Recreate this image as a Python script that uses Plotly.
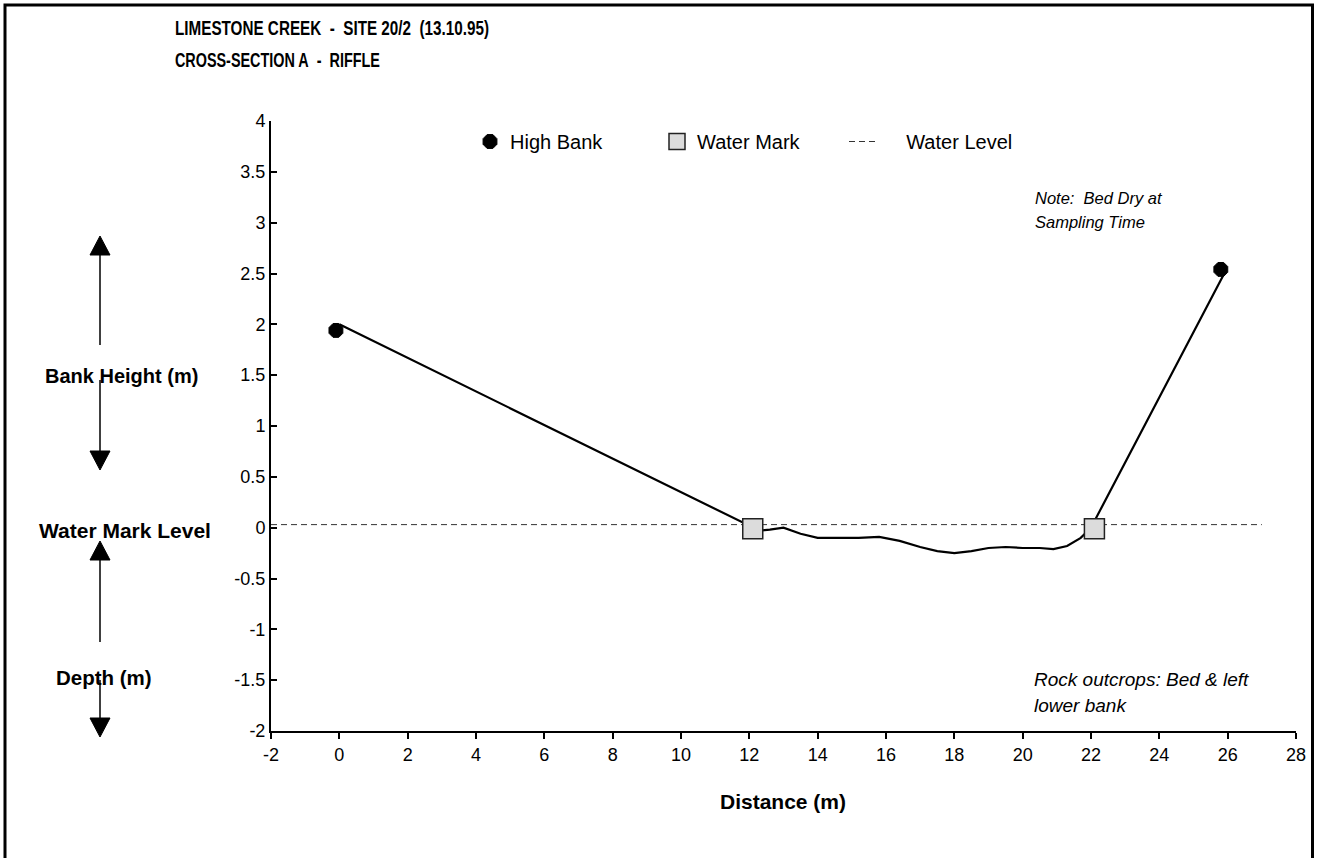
import plotly.graph_objects as go

# ---- data ----
profile_x = [0.0, 12.0, 12.3, 12.6, 13.0, 13.5, 14.0, 14.6, 15.2, 15.8, 16.4, 17.0, 17.5, 18.0, 18.5, 19.0, 19.5, 20.0, 20.5, 20.9, 21.3, 21.7, 22.0, 25.9]
profile_y = [2.0, 0.02, -0.03, -0.02, 0.0, -0.06, -0.10, -0.10, -0.10, -0.09, -0.13, -0.19, -0.23, -0.25, -0.23, -0.20, -0.19, -0.20, -0.20, -0.21, -0.18, -0.10, 0.0, 2.5]
high_bank_x = [-0.1, 25.8]
high_bank_y = [1.94, 2.54]
water_mark_x = [12.1, 22.1]
water_mark_y = [-0.01, -0.01]
water_level_x = [-2, 27]
water_level_y = [0.03, 0.03]

x_ticks = list(range(-2, 29, 2))
y_ticks = [-2, -1.5, -1, -0.5, 0, 0.5, 1, 1.5, 2, 2.5, 3, 3.5, 4]
y_tick_text = ["-2", "-1.5", "-1", "-0.5", "0", "0.5", "1", "1.5", "2", "2.5", "3", "3.5", "4"]
x_tick_text = [str(v) for v in x_ticks]

FONT = "Liberation Sans, Arial, sans-serif"

WIDTH, HEIGHT = 1318, 858
# plot area in screen pixels
L, R, T, B = 271, 1296, 121, 731
PW, PH = R - L, B - T


def px(x):
    return (x - L) / PW


def py(y):
    return (B - y) / PH


NB = "\u00a0"

fig = go.Figure()

fig.add_trace(go.Scatter(
    x=water_level_x, y=water_level_y, mode="lines", name=NB * 4 + "Water Level",
    line=dict(color="#333333", width=1, dash="6px,4px"),
))
fig.add_trace(go.Scatter(
    x=profile_x, y=profile_y, mode="lines", showlegend=False,
    line=dict(color="black", width=2.2),
))
fig.add_trace(go.Scatter(
    x=high_bank_x, y=high_bank_y, mode="markers", name="High Bank",
    marker=dict(symbol="octagon", size=15, color="black", line=dict(color="black", width=1)),
))
fig.add_trace(go.Scatter(
    x=water_mark_x, y=water_mark_y, mode="markers", name="Water Mark",
    marker=dict(symbol="square", size=20, color="#dcdcdc", line=dict(color="#222222", width=1.5)),
))

shapes = []
# outer border
shapes.append(dict(type="rect", xref="paper", yref="paper",
                   x0=px(5), x1=px(1312.5), y0=py(880), y1=py(5),
                   line=dict(color="black", width=3), fillcolor="rgba(0,0,0,0)"))


def arrow(x, y_tail, y_tip):
    d = 1 if y_tip > y_tail else -1
    base = y_tip - d * 19
    shapes.append(dict(type="line", xref="paper", yref="paper",
                       x0=px(x), x1=px(x), y0=py(y_tail), y1=py(base),
                       line=dict(color="black", width=1.5)))
    path = "M {} {} L {} {} L {} {} Z".format(
        px(x - 10), py(base), px(x + 10), py(base), px(x), py(y_tip))
    shapes.append(dict(type="path", xref="paper", yref="paper", path=path,
                       fillcolor="black", line=dict(color="black", width=1)))


arrow(100, 345, 236)
arrow(100, 380, 470)
arrow(100, 642, 541)
arrow(100, 680, 737)

annotations = []


def text(x, y, s, size=15, bold=False, italic=False, anchor="left"):
    if bold:
        s = "<b>" + s + "</b>"
    if italic:
        s = "<i>" + s + "</i>"
    annotations.append(dict(xref="paper", yref="paper", x=px(x), y=py(y),
                            text=s, showarrow=False, xanchor=anchor, yanchor="middle",
                            font=dict(family=FONT, size=size, color="black")))


TITLE1_W, TITLE2_W = 314, 205
TITLE1 = "LIMESTONE CREEK" + NB * 2 + "-" + NB * 2 + "SITE 20/2" + NB * 2 + "(13.10.95)"
TITLE2 = "CROSS-SECTION A" + NB * 2 + "-" + NB * 2 + "RIFFLE"
text(175 + TITLE1_W / 2, 28, TITLE1, size=20, bold=True, anchor="center")
text(175 + TITLE2_W / 2, 60, TITLE2, size=20, bold=True, anchor="center")
text(121, 376, "Bank Height (m)", size=20, bold=True, anchor="center")
text(125, 530, "Water Mark Level", size=21, bold=True, anchor="center")
text(104, 677, "Depth (m)", size=20.5, bold=True, anchor="center")
text(1033, 198, "Note:" + NB * 2 + "Bed Dry at", size=16.5, italic=True)
text(1033, 222, "Sampling Time", size=16.5, italic=True)
text(1032, 679, "Rock outcrops: Bed &amp; left", size=19, italic=True)
text(1032, 705, "lower bank", size=19, italic=True)
text(783, 802, "Distance (m)", size=21, bold=True, anchor="center")

fig.update_layout(
    width=WIDTH, height=HEIGHT,
    margin=dict(l=L, r=WIDTH - R, t=T, b=HEIGHT - B, pad=0),
    paper_bgcolor="white", plot_bgcolor="white",
    font=dict(family=FONT, size=18, color="black"),
    showlegend=True,
    legend=dict(orientation="h", x=px(470), y=py(122), xanchor="left", yanchor="top",
                bgcolor="rgba(0,0,0,0)", font=dict(family=FONT, size=20, color="black"),
                traceorder="normal", entrywidth=142, entrywidthmode="pixels"),
    shapes=shapes,
    annotations=annotations,
    xaxis=dict(range=[-2, 28], tickvals=x_ticks, ticktext=x_tick_text,
               showgrid=False, zeroline=False, showline=True, linecolor="black", linewidth=2,
               ticks="outside", ticklen=6, tickwidth=2, tickcolor="black",
               tickfont=dict(family=FONT, size=18, color="black")),
    yaxis=dict(range=[-2, 4], tickvals=y_ticks, ticktext=y_tick_text,
               showgrid=False, zeroline=False, showline=True, linecolor="black", linewidth=2,
               ticks="inside", ticklen=6, tickwidth=2, tickcolor="black",
               tickfont=dict(family=FONT, size=18, color="black")),
)

# legend order: High Bank, Water Mark, Water Level
fig.data[2].legendrank = 1
fig.data[3].legendrank = 2
fig.data[0].legendrank = 3

POST = """
document.body.style.margin = '0';
function squeezeTitles() {
  document.querySelectorAll('.annotation-text').forEach(function (t) {
    var s = t.textContent || '';
    if (s.indexOf('LIMESTONE') === 0) {
      t.setAttribute('textLength', '%d');
      t.setAttribute('lengthAdjust', 'spacingAndGlyphs');
    } else if (s.indexOf('CROSS-SECTION') === 0) {
      t.setAttribute('textLength', '%d');
      t.setAttribute('lengthAdjust', 'spacingAndGlyphs');
    }
  });
}
squeezeTitles();
setTimeout(squeezeTitles, 50);
setTimeout(squeezeTitles, 300);
""" % (TITLE1_W, TITLE2_W)

fig.write_html("out.html", post_script=POST, config={"displayModeBar": False})
